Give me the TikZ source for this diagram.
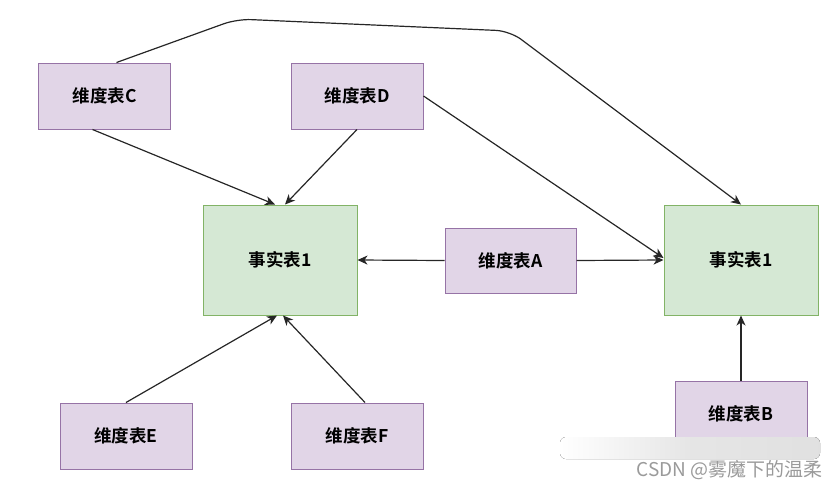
\documentclass[tikz,border=0pt]{standalone}
\usepackage{fontspec}
\newfontfamily\cjk{Noto Sans CJK SC}[BoldFont={Noto Sans CJK SC Bold}]
\usetikzlibrary{arrows.meta,calc}
\definecolor{dimfill}{HTML}{E1D5E7}
\definecolor{dimline}{HTML}{9673A6}
\definecolor{factfill}{HTML}{D5E8D4}
\definecolor{factline}{HTML}{82B366}
\definecolor{wmgray}{HTML}{9A9A9A}
\tikzset{
  dimbox/.style={draw=dimline, fill=dimfill, line width=1pt, minimum width=132pt, minimum height=66pt, inner sep=0pt, font=\cjk\bfseries\fontsize{17.5}{20}\selectfont},
  factbox/.style={draw=factline, fill=factfill, line width=1pt, minimum width=154pt, minimum height=110pt, inner sep=0pt, font=\cjk\bfseries\fontsize{17.5}{20}\selectfont},
  conn/.style={draw=black!85, line width=1.2pt, -{Stealth[length=10pt,width=9pt,inset=3pt]}},
}
\begin{document}
\begin{tikzpicture}[x=1pt,y=-1pt]
\useasboundingbox (0,0) rectangle (830,491);
\node[dimbox] (C) at (104.5,96) {维度表C};
\node[dimbox] (D) at (357,96) {维度表D};
\node[factbox] (F1) at (280,260) {事实表1};
\node[dimbox, minimum width=131pt, minimum height=65pt] (A) at (510.5,260.5) {维度表A};
\node[factbox] (F2) at (741,260) {事实表1};
\node[dimbox] (B) at (741,414) {维度表B};
\node[dimbox] (E) at (126,436) {维度表E};
\node[dimbox] (F) at (357,436) {维度表F};
\coordinate (p1) at (237,19);
\coordinate (p2) at (510,31);
\draw[conn, rounded corners=14pt] ([xshift=12pt]C.north) -- (p1) -- (p2) -- (F2.north);
\draw[conn] ([xshift=-12pt]C.south) -- ([xshift=-5pt]F1.north);
\draw[conn] (D.south) -- ([xshift=5pt]F1.north);
\draw[conn] (D.east) -- ([yshift=2pt]F2.west);
\draw[conn] (A.west) -- (F1.east);
\draw[conn] (A.east) -- (F2.west);
\draw[conn] (B.north) -- (F2.south);
\draw[conn] (E.north) -- ([xshift=-3pt]F1.south);
\draw[conn] ([xshift=8pt]F.north) -- ([xshift=3pt]F1.south);
% watermark
\fill[left color=white, right color=black!12, middle color=black!10, rounded corners=6pt] (560,437) rectangle (820,459);
\node[font=\cjk\fontsize{19}{22}\selectfont, text=wmgray, anchor=east, inner sep=0pt] (wm) at (823,470) {CSDN @雾魔下的温柔};
\end{tikzpicture}
\end{document}
